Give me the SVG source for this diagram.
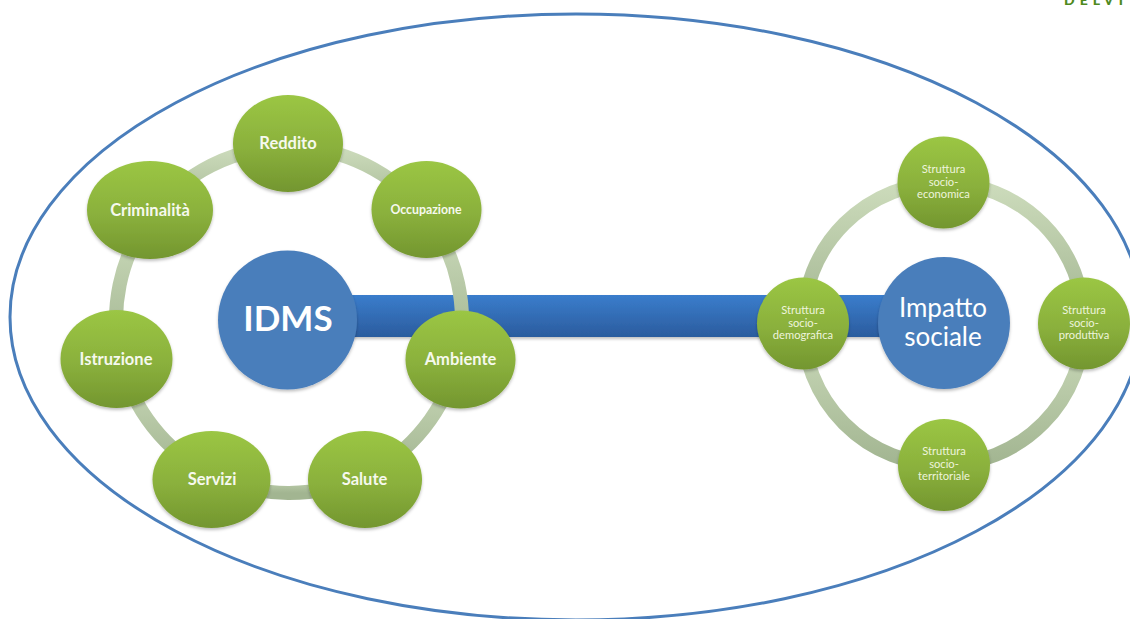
<svg xmlns="http://www.w3.org/2000/svg" width="1130" height="619" viewBox="0 0 1130 619">
<style>
text{font-family:Lato,"Liberation Sans",sans-serif;fill:#fff;text-anchor:middle}
.b{font-weight:700;font-size:16.500px;fill:#f6f9ee}
.s{font-size:11.200px;fill:#eef4dc}
.g{fill:url(#green);filter:url(#sh)}
.u{fill:#4a7ebb;filter:url(#sh)}
.r{fill:none;stroke:url(#ring);stroke-width:14}
</style>
<defs>
<linearGradient id="green" x1="0" y1="0" x2="0" y2="1"><stop offset="0" stop-color="#9bc644"/><stop offset="0.55" stop-color="#8ab03c"/><stop offset="1" stop-color="#73962f"/></linearGradient>
<linearGradient id="ring" x1="0" y1="0" x2="0" y2="1"><stop offset="0" stop-color="#cddcbc"/><stop offset="1" stop-color="#a2b591"/></linearGradient>
<linearGradient id="bar" x1="0" y1="0" x2="0" y2="1"><stop offset="0" stop-color="#3a7dcc"/><stop offset="1" stop-color="#2b5c9e"/></linearGradient>
<filter id="sh" x="-15%" y="-15%" width="130%" height="135%"><feDropShadow dx="0" dy="2" stdDeviation="1.500" flood-color="#000" flood-opacity="0.25"/></filter>
</defs>
<rect width="1130" height="619" fill="#fff"/>
<text x="1096" y="5" style="font-weight:900;font-size:14px;fill:#4f8a1e;letter-spacing:5px">DELVI</text>
<ellipse id="outer" cx="576" cy="317" rx="566" ry="303" fill="none" stroke="#4a7ebb" stroke-width="3"/>
<g id="connectors">
<rect x="340" y="295" width="550" height="42" fill="url(#bar)" filter="url(#sh)"/>
<path class="r" d="M289 147A173 173 0 0 1 426 214.400"/>
<path class="r" d="M426 214.400A173 173 0 0 1 457.500 359"/>
<path class="r" d="M457.500 359A173 173 0 0 1 365 475.400"/>
<path class="r" d="M365 475.400A173 173 0 0 1 211 474.400"/>
<path class="r" d="M211 474.400A173 173 0 0 1 120.500 359"/>
<path class="r" d="M120.500 359A173 173 0 0 1 150 217"/>
<path class="r" d="M150 217A173 173 0 0 1 289 147"/>
<path class="r" d="M944 182.500A141 141 0 0 1 1084 323.500"/>
<path class="r" d="M1084 323.500A141 141 0 0 1 944 465"/>
<path class="r" d="M944 465A141 141 0 0 1 803 323.500"/>
<path class="r" d="M803 323.500A141 141 0 0 1 944 182.500"/>
</g>
<g id="idms"><circle class="u" cx="287.500" cy="320" r="69.500"/><text x="288" y="331" style="font-weight:700;font-size:35px">IDMS</text></g>
<g id="reddito"><ellipse class="g" cx="288" cy="143.500" rx="55" ry="48.500"/><text class="b" x="288" y="149">Reddito</text></g>
<g id="occupazione"><ellipse class="g" cx="426.500" cy="209.500" rx="55" ry="48.500"/><text class="b" x="426" y="214" style="font-size:12.300px">Occupazione</text></g>
<g id="ambiente"><ellipse class="g" cx="460.500" cy="359.500" rx="55" ry="49"/><text class="b" x="460.500" y="365">Ambiente</text></g>
<g id="salute"><ellipse class="g" cx="365" cy="479.500" rx="57" ry="48.500"/><text class="b" x="364.500" y="485">Salute</text></g>
<g id="servizi"><ellipse class="g" cx="211.500" cy="479.500" rx="59" ry="48.500"/><text class="b" x="212" y="485">Servizi</text></g>
<g id="istruzione"><ellipse class="g" cx="116.500" cy="359" rx="56" ry="49"/><text class="b" x="116" y="365">Istruzione</text></g>
<g id="criminalita"><ellipse class="g" cx="150" cy="210" rx="63" ry="49"/><text class="b" x="150" y="216">Criminalità</text></g>
<g id="impatto"><circle class="u" cx="944" cy="323" r="66"/><text x="943" y="317" style="font-size:26px">Impatto</text><text x="943" y="346" style="font-size:26px">sociale</text></g>
<g id="economica"><circle class="g" cx="943.500" cy="182.500" r="46"/><text class="s" x="943.500" y="173">Struttura</text><text class="s" x="943.500" y="186">socio-</text><text class="s" x="943.500" y="198">economica</text></g>
<g id="produttiva"><circle class="g" cx="1084" cy="323.500" r="46"/><text class="s" x="1084" y="314">Struttura</text><text class="s" x="1084" y="327">socio-</text><text class="s" x="1084" y="339">produttiva</text></g>
<g id="territoriale"><circle class="g" cx="944" cy="465" r="46"/><text class="s" x="944" y="455">Struttura</text><text class="s" x="944" y="468">socio-</text><text class="s" x="944" y="480">territoriale</text></g>
<g id="demografica"><circle class="g" cx="803" cy="323.500" r="46"/><text class="s" x="803" y="314">Struttura</text><text class="s" x="803" y="327">socio-</text><text class="s" x="803" y="339">demografica</text></g>
</svg>
